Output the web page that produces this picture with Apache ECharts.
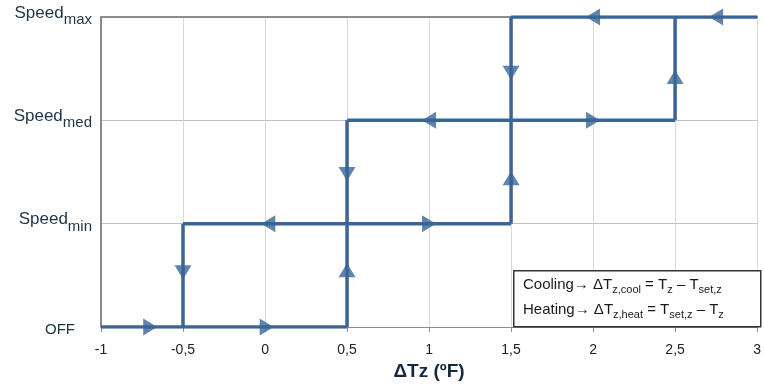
<!DOCTYPE html>
<html><head><meta charset="utf-8">
<script src="https://cdn.jsdelivr.net/npm/echarts@6/dist/echarts.min.js"></script>
<style>html,body{margin:0;padding:0;background:#fff}#c{width:764px;height:388px}</style>
</head><body><div id="c"></div>
<script>
// y levels (categories mapped to 0..3)
var levelNames = ['OFF', 'Speed|min', 'Speed|med', 'Speed|max'];
var xTicks = [-1, -0.5, 0, 0.5, 1, 1.5, 2, 2.5, 3];
// path segments [x0, y0, x1, y1]
var segments = [
  [-1, 0, 0.5, 0],
  [0.5, 0, 0.5, 2],
  [-0.5, 0, -0.5, 1],
  [-0.5, 1, 1.5, 1],
  [1.5, 1, 1.5, 3],
  [0.5, 2, 2.5, 2],
  [2.5, 2, 2.5, 3],
  [1.5, 3, 3, 3]
];
// arrows [x, y, direction]
var arrows = [
  [-0.7, 0, 'right'], [0.01, 0, 'right'],
  [0.02, 1, 'left'], [1, 1, 'right'],
  [1, 2, 'left'], [2, 2, 'right'],
  [2, 3, 'left'], [2.75, 3, 'left'],
  [-0.5, 0.53, 'down'], [0.5, 0.55, 'up'], [0.5, 1.48, 'down'],
  [1.5, 1.44, 'up'], [1.5, 2.46, 'down'], [2.5, 2.42, 'up']
];

var blue = '#3a6597';
var rot = {up: 0, down: 180, left: 90, right: -90};
var series = segments.map(function (s) {
  return {type: 'line', data: [[s[0], s[1]], [s[2], s[3]]], symbol: 'none',
    lineStyle: {color: blue, width: 3.5}, z: 3, silent: true};
});
series.push({
  type: 'scatter', z: 4, silent: true,
  data: arrows.map(function (a) {
    return {value: [a[0], a[1]], symbolRotate: rot[a[2]]};
  }),
  symbol: 'triangle', symbolSize: [17, 14], itemStyle: {color: blue}
});

var txt = '#1d3446';
var chart = echarts.init(document.getElementById('c'));
chart.setOption({
  animation: false,
  grid: {left: 101, right: 5, top: 17, bottom: 61},
  xAxis: [{
    type: 'value', min: -1, max: 3, interval: 0.5,
    name: 'ΔTz (ºF)', nameLocation: 'middle', nameGap: 31,
    nameTextStyle: {fontFamily: 'Liberation Sans', fontWeight: 'bold', fontSize: 19, color: '#15293a'},
    axisLine: {show: true, onZero: false, lineStyle: {color: '#8c8c8c', width: 1}},
    axisTick: {show: true, length: 5, lineStyle: {color: '#8c8c8c'}},
    axisLabel: {margin: 16, fontFamily: 'Liberation Sans', fontSize: 14, color: '#222',
      formatter: function (v) { return String(v).replace('.', ','); }},
    splitLine: {show: true, lineStyle: {color: '#d9d9d9', width: 1}}
  }, {
    type: 'value', min: -1, max: 3, position: 'top',
    axisLine: {show: true, onZero: false, lineStyle: {color: '#8c8c8c', width: 2}},
    axisTick: {show: false}, axisLabel: {show: false}, splitLine: {show: false}
  }],
  yAxis: {
    type: 'value', min: 0, max: 3, interval: 1,
    axisLine: {show: true, onZero: false, lineStyle: {color: '#888', width: 2}},
    axisTick: {show: false},
    axisLabel: {margin: 9, fontFamily: 'Liberation Sans', color: txt,
      formatter: function (v) {
        var n = levelNames[v];
        if (n.indexOf('|') < 0) return '{o|' + n + '}';
        var p = n.split('|');
        return '{a|' + p[0] + '}{b|' + p[1] + '}';
      },
      rich: {
        o: {fontSize: 15, fontFamily: 'Liberation Sans', color: txt, padding: [5, 17, 0, 0]},
        a: {fontSize: 17, fontFamily: 'Liberation Sans', color: txt, verticalAlign: 'top', padding: [4, 0, 0, 0]},
        b: {fontSize: 15, fontFamily: 'Liberation Sans', color: txt, verticalAlign: 'top', padding: [12, 0, 6, 0]}
      }
    },
    splitLine: {show: true, lineStyle: {color: '#bfbfbf', width: 1}}
  },
  graphic: [
    {type: 'rect', left: 513, top: 270, shape: {width: 247, height: 56},
      style: {fill: '#fff', stroke: '#333', lineWidth: 1.5}, z: 10},
    {type: 'text', left: 523, top: 277, z: 11,
      style: {
        text: '{m|Cooling→ ΔT}{s|z,cool}{m| = T}{s|z}{m| – T}{s|set,z}',
        rich: {
          m: {fontSize: 15, fontFamily: 'Liberation Sans', fill: '#1a1a1a', verticalAlign: 'top'},
          s: {fontSize: 11, fontFamily: 'Liberation Sans', fill: '#1a1a1a', verticalAlign: 'top', padding: [7, 0, 0, 0]}
        }
      }},
    {type: 'text', left: 523, top: 302, z: 11,
      style: {
        text: '{m|Heating→ ΔT}{s|z,heat}{m| = T}{s|set,z}{m| – T}{s|z}',
        rich: {
          m: {fontSize: 15, fontFamily: 'Liberation Sans', fill: '#1a1a1a', verticalAlign: 'top'},
          s: {fontSize: 11, fontFamily: 'Liberation Sans', fill: '#1a1a1a', verticalAlign: 'top', padding: [7, 0, 0, 0]}
        }
      }}
  ],
  series: series
});
</script></body></html>
